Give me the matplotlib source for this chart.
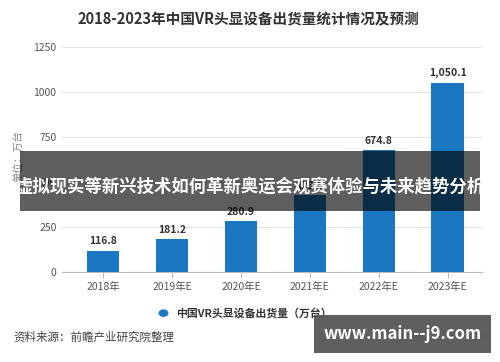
import matplotlib
matplotlib.use("Agg")
import matplotlib.pyplot as plt
from matplotlib.patches import Rectangle, Circle
import numpy as np

plt.rcParams['font.family'] = ['Noto Sans CJK SC', 'DejaVu Sans']

# data (2021 label is hidden by the banner)
years = ["2018年", "2019年E", "2020年E", "2021年E", "2022年E", "2023年E"]
shipments = [116.8, 181.2, 280.9, 426.6, 674.8, 1050.1]
y_ticks = [0, 250, 500, 750, 1000, 1250]

bar_color = "#1a78c2"
text_grey = "#555555"

fig = plt.figure(figsize=(5.0, 3.62), dpi=100)
ax = fig.add_axes([0.124, 0.249, 0.840, 0.622])

x = np.arange(len(years))
ax.bar(x, shipments, width=0.47, color=bar_color, zorder=3)
for xi, v in zip(x, shipments):
    ax.text(xi, v + 25, f"{v:,.1f}", ha="center", va="bottom",
            fontsize=7.5, fontweight="bold", color="#333333", zorder=4)

ax.set_xlim(-0.6, 5.5)
ax.set_ylim(0, 1250)
ax.set_yticks(y_ticks)
ax.set_yticklabels([str(t) for t in y_ticks], fontsize=7.5, color=text_grey)
ax.set_xticks(x)
ax.set_xticklabels(years, fontsize=7.5, color=text_grey)
ax.tick_params(axis="y", length=0, pad=4)
ax.tick_params(axis="x", length=4, color="#bbbbbb", pad=3)
ax.grid(axis="y", color="#e3e3e3", linewidth=0.8, zorder=0)
for side in ["top", "right", "left"]:
    ax.spines[side].set_visible(False)
ax.spines["bottom"].set_color("#bbbbbb")

fig.text(0.036, 0.57, "单位：万台", rotation=90, ha="center", va="center",
         fontsize=7.5, color="#888888")

fig.text(0.496, 0.947, "2018-2023年中国VR头显设备出货量统计情况及预测", ha="center",
         va="center", fontsize=10.5, fontweight="bold", color="#333333")

# legend
fig.patches.append(Circle((0.327, 0.135), 0.0085, color=bar_color,
                          transform=fig.transFigure, figure=fig))
fig.text(0.352, 0.135, "中国VR头显设备出货量（万台）", ha="left", va="center",
         fontsize=7.8, fontweight="bold", color="#333333")

fig.text(0.026, 0.068, "资料来源：前瞻产业研究院整理", ha="left", va="center",
         fontsize=8.3, color="#444444")
fig.text(0.98, 0.068, "@前瞻经济学人APP", ha="right", va="center",
         fontsize=8, color="#444444")

# banner overlay
fig.patches.append(Rectangle((0.04, 1 - 211 / 362), 0.92, 60 / 362, transform=fig.transFigure,
                             facecolor="black", alpha=0.63, zorder=10, figure=fig))
fig.text(0.5, 1 - 186 / 362, "虚拟现实等新兴技术如何革新奥运会观赛体验与未来趋势分析",
         ha="center", va="center", fontsize=12.5, fontweight="bold", color="white", zorder=11)

# site box bottom right
fig.patches.append(Rectangle((0.628, 1 - 353 / 362), 0.354, 38 / 362, transform=fig.transFigure,
                             facecolor="#5a5a5a", alpha=0.97, zorder=10, figure=fig))
fig.text(0.805, 1 - 334 / 362, "www.main--j9.com", ha="center", va="center",
         fontsize=12, fontweight="bold", color="white", zorder=11)

fig.savefig("out.png", dpi=100)
